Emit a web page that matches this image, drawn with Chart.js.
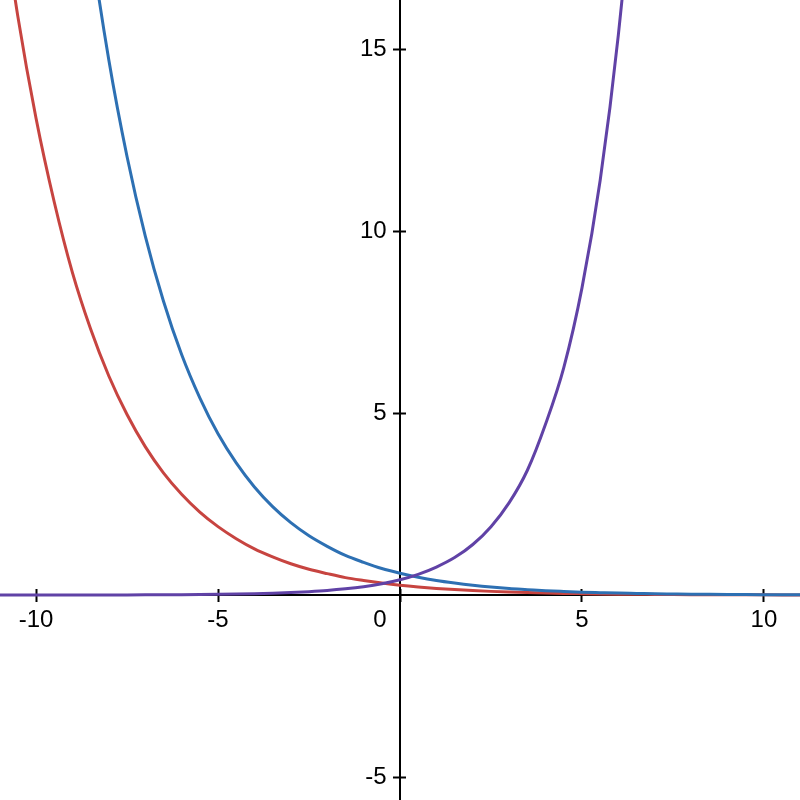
<!DOCTYPE html>
<html>
<head>
<meta charset="utf-8">
<script src="https://cdn.jsdelivr.net/npm/chart.js@4/dist/chart.umd.min.js"></script>
<style>
  html, body { margin: 0; padding: 0; background: #ffffff; }
  #wrap { width: 800px; height: 800px; }
</style>
</head>
<body>
<div id="wrap"><canvas id="c" width="800" height="800"></canvas></div>
<script>
// x positions
const xValues = [-11, -10.5, -10, -9.5, -9, -8.5, -8, -7.5, -7, -6.5, -6, -5.5, -5, -4.5, -4, -3.5, -3, -2.5, -2, -1.5, -1, -0.5,
  0, 0.5, 1, 1.5, 2, 2.5, 3, 3.5, 4, 4.5, 5, 5.5, 6, 6.5, 7, 7.5, 8, 8.5, 9, 9.5, 10, 10.5, 11];

// red decreasing curve
const redValues = [19.3, 15.9, 13.1, 10.8, 8.86, 7.31, 6.02, 4.96, 4.08, 3.36, 2.77, 2.28, 1.88, 1.55, 1.27, 1.05, 0.86, 0.71, 0.59, 0.48, 0.40, 0.33,
  0.27, 0.222, 0.183, 0.151, 0.124, 0.102, 0.084, 0.069, 0.057, 0.047, 0.039, 0.032, 0.026, 0.022, 0.018, 0.015, 0.012, 0.010, 0.008, 0.007, 0.006, 0.005, 0.004];

// blue decreasing curve
const blueValues = [48.9, 40.5, 32.8, 26.8, 22.0, 17.98, 14.7, 12.05, 9.87, 8.08, 6.61, 5.42, 4.43, 3.63, 2.97, 2.43, 1.99, 1.63, 1.34, 1.09, 0.90, 0.73,
  0.60, 0.49, 0.40, 0.33, 0.27, 0.22, 0.18, 0.15, 0.12, 0.099, 0.081, 0.067, 0.054, 0.045, 0.036, 0.030, 0.024, 0.020, 0.016, 0.013, 0.011, 0.009, 0.007];

// purple increasing curve
const purpleValues = [0.0006, 0.0008, 0.001, 0.0014, 0.0019, 0.0026, 0.0035, 0.0047, 0.0063, 0.0085, 0.0115, 0.0155, 0.021, 0.028, 0.038, 0.051, 0.069, 0.094, 0.126, 0.171, 0.23, 0.31,
  0.42, 0.57, 0.77, 1.03, 1.39, 1.88, 2.54, 3.43, 4.7, 6.25, 8.44, 11.4, 15.4, 20.8, 28.0, 37.8, 51.0, 68.9, 93.0, 125.5, 169.4, 228.7, 308.7];

const xTickValues = [-10, -5, 0, 5, 10];
const yTickValues = [-5, 5, 10, 15];

const xMin = -10.99, xMax = 10.99;
const yMin = -5.63, yMax = 16.35;

const toPoints = (ys) => xValues.map((x, i) => ({ x: x, y: ys[i] }));

const FONT = { family: '"Liberation Sans", Arial, sans-serif', size: 24 };

function lineDs(label, ys, color) {
  return {
    label: label,
    data: toPoints(ys),
    borderColor: color,
    backgroundColor: color,
    borderWidth: 3,
    pointRadius: 0,
    pointHoverRadius: 0,
    cubicInterpolationMode: 'monotone',
    fill: false
  };
}

const noPad = (s) => { s.paddingTop = 0; s.paddingBottom = 0; s.paddingLeft = 0; s.paddingRight = 0; };

const chart = new Chart(document.getElementById('c'), {
  type: 'line',
  data: {
    datasets: [
      lineDs('purple', purpleValues, '#6042a6'),
      lineDs('blue', blueValues, '#2d70b3'),
      lineDs('red', redValues, '#c74440')
    ]
  },
  options: {
    responsive: false,
    animation: false,
    events: [],
    layout: { padding: 0 },
    plugins: { legend: { display: false }, tooltip: { enabled: false }, title: { display: false } },
    scales: {
      x: {
        type: 'linear',
        min: xMin, max: xMax,
        position: { y: 0 },
        afterBuildTicks: (s) => { s.ticks = xTickValues.map(v => ({ value: v })); },
        afterFit: noPad,
        ticks: {
          color: '#000000',
          font: FONT,
          padding: 5,
          maxRotation: 0,
          autoSkip: false,
          callback: (v) => (v === 0 ? '0      ' : String(v))
        },
        grid: { drawOnChartArea: false, drawTicks: true, tickLength: 6, tickColor: '#000000', tickWidth: 2 },
        border: { display: true, color: '#000000', width: 2 }
      },
      x2: {
        type: 'linear', axis: 'x',
        min: xMin, max: xMax,
        position: { y: 0 },
        afterBuildTicks: (s) => { s.ticks = xTickValues.map(v => ({ value: v })); },
        afterFit: noPad,
        ticks: { display: false },
        grid: { drawOnChartArea: false, drawTicks: true, tickLength: -6, tickColor: '#000000', tickWidth: 2 },
        border: { display: false }
      },
      y: {
        type: 'linear',
        min: yMin, max: yMax,
        position: { x: 0 },
        afterBuildTicks: (s) => { s.ticks = yTickValues.map(v => ({ value: v })); },
        afterFit: noPad,
        ticks: {
          color: '#000000',
          font: FONT,
          padding: 5,
          autoSkip: false,
          callback: (v) => String(v) + '  '
        },
        grid: { drawOnChartArea: false, drawTicks: true, tickLength: 6, tickColor: '#000000', tickWidth: 2 },
        border: { display: true, color: '#000000', width: 2 }
      },
      y2: {
        type: 'linear', axis: 'y',
        min: yMin, max: yMax,
        position: { x: 0 },
        afterBuildTicks: (s) => { s.ticks = yTickValues.map(v => ({ value: v })); },
        afterFit: noPad,
        ticks: { display: false },
        grid: { drawOnChartArea: false, drawTicks: true, tickLength: -6, tickColor: '#000000', tickWidth: 2 },
        border: { display: false }
      }
    }
  }
});
</script>
</body>
</html>
